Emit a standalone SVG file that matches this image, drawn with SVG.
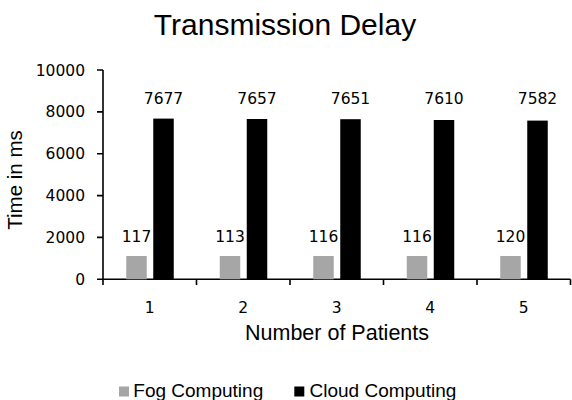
<svg xmlns="http://www.w3.org/2000/svg" width="572" height="400" viewBox="0 0 572 400">
<style>
.num{font-family:"DejaVu Sans",sans-serif;font-size:15.5px;fill:#000}
.lab{font-family:"Liberation Sans",Arial,sans-serif;fill:#000}
.fog{fill:#A6A6A6}
.cloud{fill:#000}
.ax{stroke:#000;stroke-width:1.6;fill:none}
</style>
<rect width="572" height="400" fill="#fff"/>
<text id="title" class="lab" x="285" y="35" font-size="30" text-anchor="middle">Transmission Delay</text>
<g id="axes">
<path class="ax" d="M103 70V279.3H570.5"/>
<path class="ax" d="M97 70H103M97 111.9H103M97 153.7H103M97 195.6H103M97 237.4H103M97 279.3H103"/>
<path class="ax" d="M103 279.3V285M196.5 279.3V285M290 279.3V285M383.5 279.3V285M477 279.3V285M570.5 279.3V285"/>
</g>
<g id="ylabels" class="num" text-anchor="end">
<text x="85" y="75.5">10000</text>
<text x="85" y="117.4">8000</text>
<text x="85" y="159.2">6000</text>
<text x="85" y="201.1">4000</text>
<text x="85" y="242.9">2000</text>
<text x="85" y="284.8">0</text>
</g>
<g id="xlabels" class="num" text-anchor="middle">
<text x="149.75" y="312.5">1</text>
<text x="243.25" y="312.5">2</text>
<text x="336.75" y="312.5">3</text>
<text x="430.25" y="312.5">4</text>
<text x="523.75" y="312.5">5</text>
</g>
<text id="ytitle" class="lab" font-size="20.5" text-anchor="middle" transform="translate(22 180) rotate(-90)">Time in ms</text>
<text id="xtitle" class="lab" font-size="21.5" x="337" y="340" text-anchor="middle">Number of Patients</text>
<g id="bars-fog">
<rect class="fog" x="126.25" y="256" width="20.5" height="23.3"/>
<rect class="fog" x="219.75" y="256" width="20.5" height="23.3"/>
<rect class="fog" x="313.25" y="256" width="20.5" height="23.3"/>
<rect class="fog" x="406.75" y="256" width="20.5" height="23.3"/>
<rect class="fog" x="500.25" y="256" width="20.5" height="23.3"/>
</g>
<g id="bars-cloud">
<rect class="cloud" x="153.25" y="118.6" width="20.5" height="160.7"/>
<rect class="cloud" x="246.75" y="119.0" width="20.5" height="160.3"/>
<rect class="cloud" x="340.25" y="119.2" width="20.5" height="160.1"/>
<rect class="cloud" x="433.75" y="120.0" width="20.5" height="159.3"/>
<rect class="cloud" x="527.25" y="120.6" width="20.5" height="158.7"/>
</g>
<g id="labels-fog" class="num" text-anchor="middle">
<text x="136.5" y="241.5">117</text>
<text x="230" y="241.5">113</text>
<text x="323.5" y="241.5">116</text>
<text x="417" y="241.5">116</text>
<text x="510.5" y="241.5">120</text>
</g>
<g id="labels-cloud" class="num" text-anchor="middle">
<text x="163.5" y="103.5">7677</text>
<text x="257" y="103.5">7657</text>
<text x="350.5" y="103.5">7651</text>
<text x="444" y="103.5">7610</text>
<text x="537.5" y="103.5">7582</text>
</g>
<g id="legend">
<rect class="fog" x="119" y="386.5" width="10" height="10"/>
<text class="lab" font-size="19" x="133.3" y="396.5">Fog Computing</text>
<rect class="cloud" x="294.3" y="386.5" width="10" height="10"/>
<text class="lab" font-size="19" x="309.5" y="396.5">Cloud Computing</text>
</g>
</svg>
